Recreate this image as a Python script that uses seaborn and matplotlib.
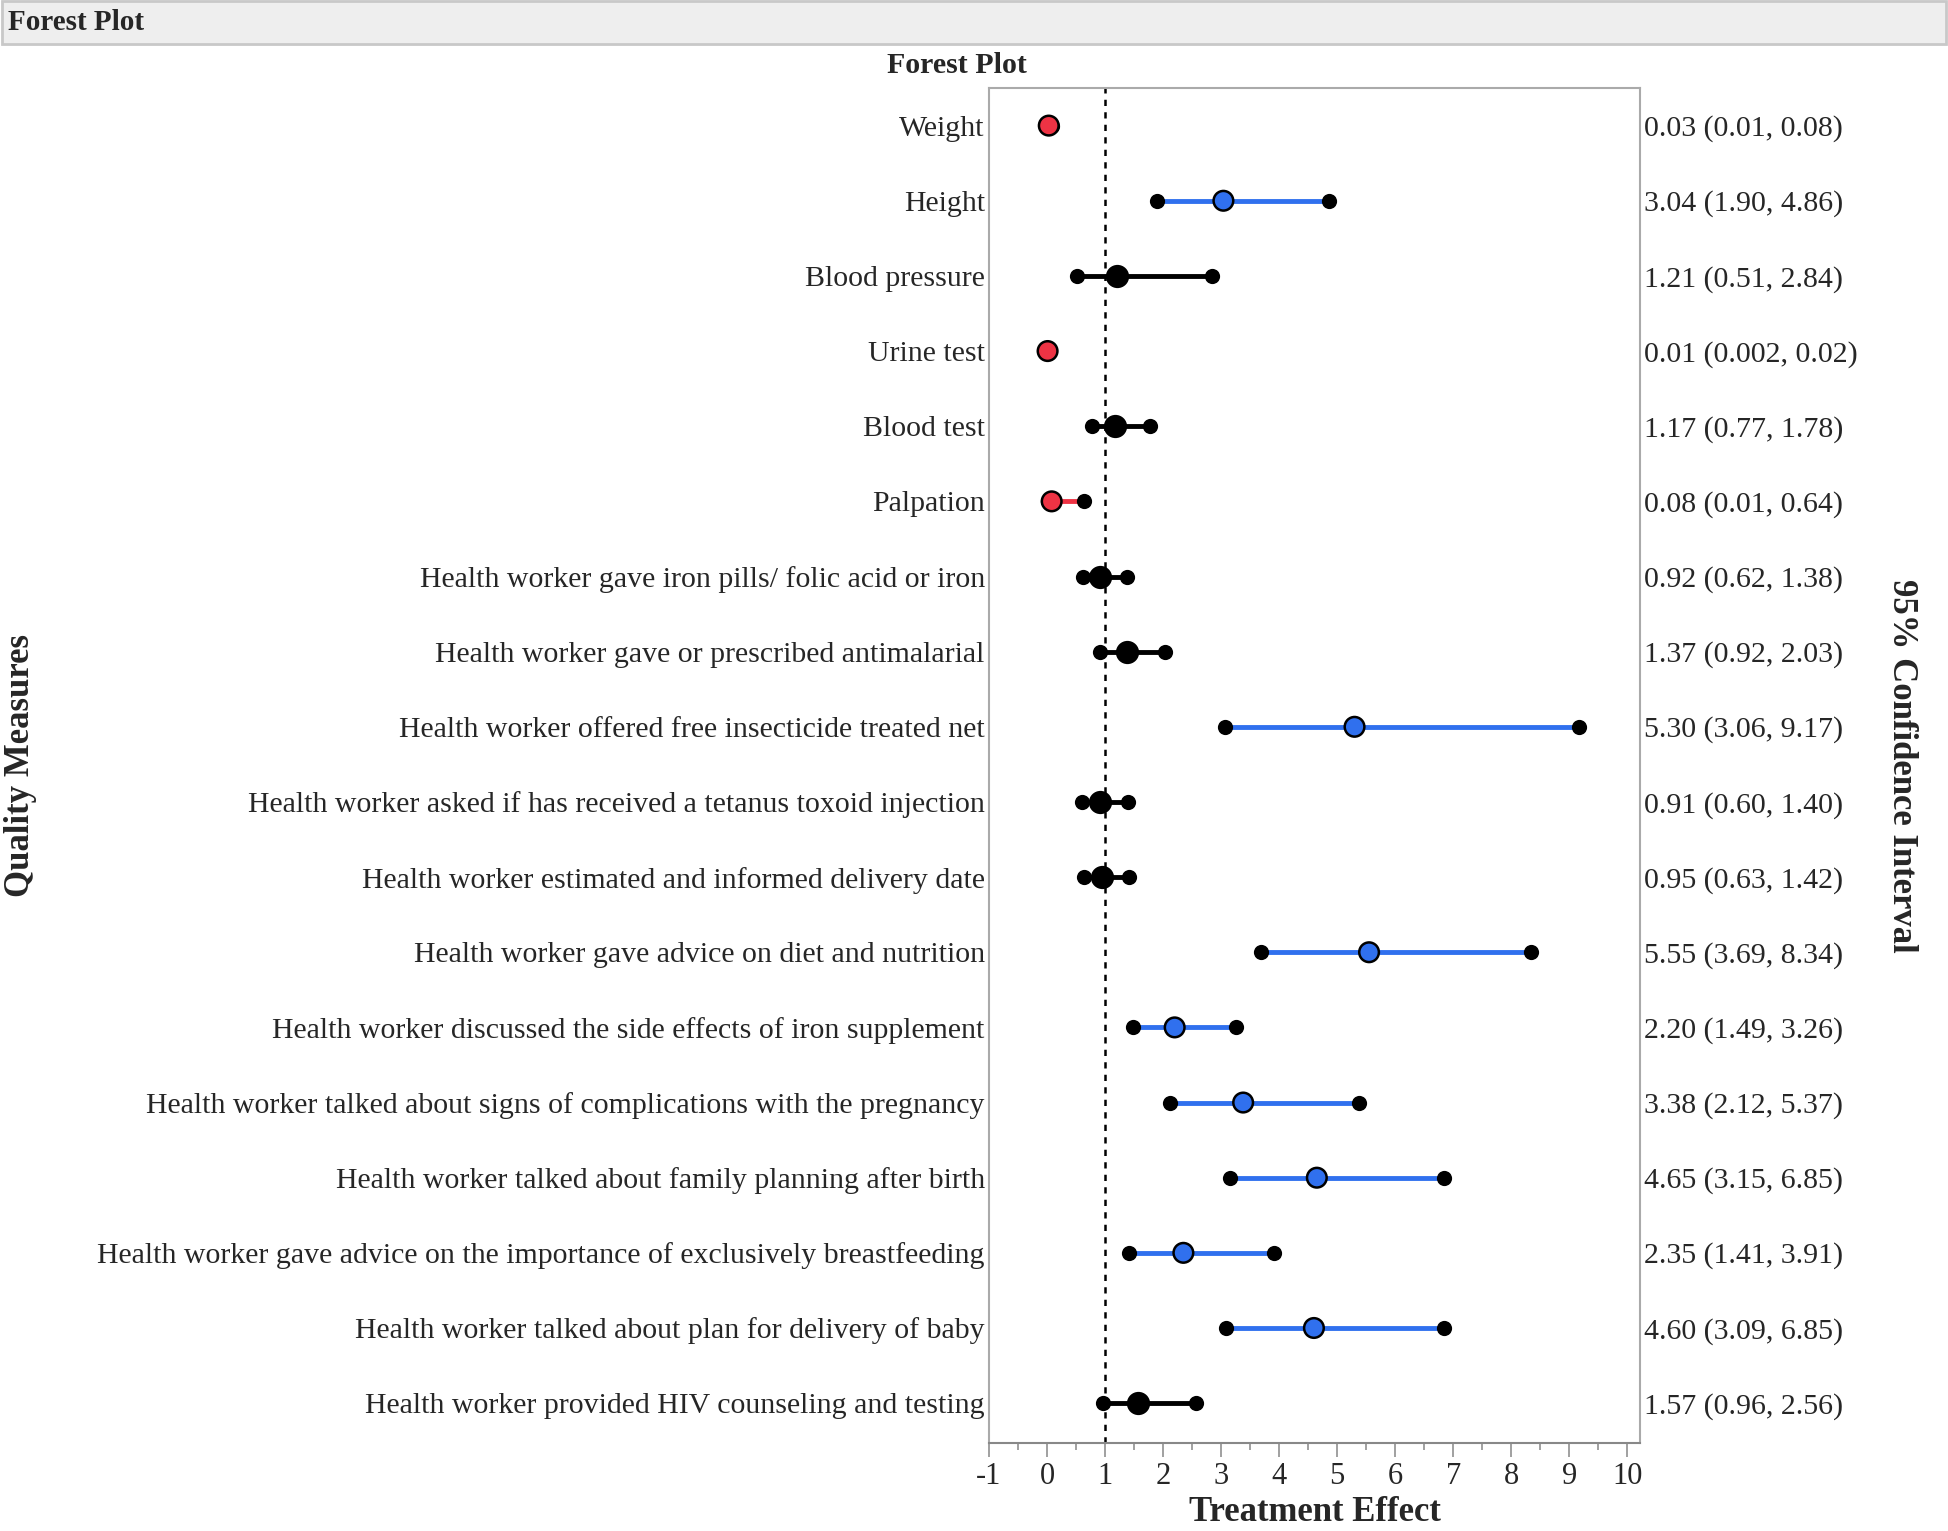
"""Forest plot of quality measures (odds ratios with 95% CI)."""

import matplotlib
matplotlib.use("Agg")
import matplotlib.pyplot as plt
import matplotlib.patches as mpatches
import pandas as pd
import seaborn as sns

measures = [
    "Weight",
    "Height",
    "Blood pressure",
    "Urine test",
    "Blood test",
    "Palpation",
    "Health worker gave iron pills/ folic acid or iron",
    "Health worker gave or prescribed antimalarial",
    "Health worker offered free insecticide treated net",
    "Health worker asked if has received a tetanus toxoid injection",
    "Health worker estimated and informed delivery date",
    "Health worker gave advice on diet and nutrition",
    "Health worker discussed the side effects of iron supplement",
    "Health worker talked about signs of complications with the pregnancy",
    "Health worker talked about family planning after birth",
    "Health worker gave advice on the importance of exclusively breastfeeding",
    "Health worker talked about plan for delivery of baby",
    "Health worker provided HIV counseling and testing",
]
effect = [0.03, 3.04, 1.21, 0.01, 1.17, 0.08, 0.92, 1.37, 5.30, 0.91, 0.95,
          5.55, 2.20, 3.38, 4.65, 2.35, 4.60, 1.57]
lower = [0.01, 1.90, 0.51, 0.002, 0.77, 0.01, 0.62, 0.92, 3.06, 0.60, 0.63,
         3.69, 1.49, 2.12, 3.15, 1.41, 3.09, 0.96]
upper = [0.08, 4.86, 2.84, 0.02, 1.78, 0.64, 1.38, 2.03, 9.17, 1.40, 1.42,
         8.34, 3.26, 5.37, 6.85, 3.91, 6.85, 2.56]
ci_labels = [
    "0.03 (0.01, 0.08)", "3.04 (1.90, 4.86)", "1.21 (0.51, 2.84)",
    "0.01 (0.002, 0.02)", "1.17 (0.77, 1.78)", "0.08 (0.01, 0.64)",
    "0.92 (0.62, 1.38)", "1.37 (0.92, 2.03)", "5.30 (3.06, 9.17)",
    "0.91 (0.60, 1.40)", "0.95 (0.63, 1.42)", "5.55 (3.69, 8.34)",
    "2.20 (1.49, 3.26)", "3.38 (2.12, 5.37)", "4.65 (3.15, 6.85)",
    "2.35 (1.41, 3.91)", "4.60 (3.09, 6.85)", "1.57 (0.96, 2.56)",
]
x_ticks = list(range(-1, 11))

RED = "#ee3344"
BLUE = "#3070ee"
BLACK = "#000000"

sns.set_style("white")
plt.rcParams["font.family"] = ["Liberation Serif", "DejaVu Serif"]
plt.rcParams["axes.unicode_minus"] = False

df = pd.DataFrame({"measure": measures, "effect": effect,
                   "lower": lower, "upper": upper, "label": ci_labels})
df["row"] = range(len(df))


def classify(r):
    if r["upper"] < 1:
        return "lower"
    if r["lower"] > 1:
        return "higher"
    return "ns"


df["group"] = df.apply(classify, axis=1)
palette = {"lower": RED, "higher": BLUE, "ns": BLACK}

fig = plt.figure(figsize=(19.48, 15.31), dpi=100)
ax = fig.add_axes([0.5077, 0.0575, 0.3342, 0.885])

# reference line at 1
ax.axvline(1, color="black", linestyle=(0, (2.5, 2.5)), linewidth=1.8, zorder=1)

# CI lines
for grp, sub in df.groupby("group"):
    ax.hlines(sub["row"], sub["lower"], sub["upper"], color=palette[grp],
              linewidth=3.5, zorder=2)

# CI end points
ends = pd.concat([
    df[["row", "lower"]].rename(columns={"lower": "x"}),
    df[["row", "upper"]].rename(columns={"upper": "x"}),
])
sns.scatterplot(data=ends, x="x", y="row", color="black", s=120,
                edgecolor="black", linewidth=0, ax=ax, zorder=3, legend=False)

# point estimates
ns = df[df["group"] == "ns"]
sig = df[df["group"] != "ns"]
sns.scatterplot(data=ns, x="effect", y="row", color="black", s=280,
                edgecolor="black", linewidth=0, ax=ax, zorder=4, legend=False)
sns.scatterplot(data=sig, x="effect", y="row", hue="group", palette=palette,
                s=200, edgecolor="black", linewidth=1.8, ax=ax, zorder=5,
                legend=False)

ax.set_xlim(-1, 10.22)
ax.set_ylim(len(df) - 0.47, -0.5)
ax.set_xticks(x_ticks)
ax.set_xticks([t + 0.5 for t in x_ticks[:-1]], minor=True)
ax.set_yticks(df["row"])
ax.set_yticklabels(df["measure"], fontsize=21.5)
ax.tick_params(axis="x", which="major", labelsize=22, length=10, width=1.3,
               color="#999999", direction="out", bottom=True, pad=4)
ax.tick_params(axis="x", which="minor", length=5, width=1.3, color="#999999",
               bottom=True)
ax.tick_params(axis="y", length=0, pad=3)
ax.set_xlabel("")
ax.set_ylabel("")
for side in ["left", "right", "top", "bottom"]:
    ax.spines[side].set_color("#aaaaaa")
    ax.spines[side].set_linewidth(1.5)
ax.spines["bottom"].set_color("#888888")

# CI text labels on the right
for _, r in df.iterrows():
    ax.text(1.006, r["row"], r["label"], transform=ax.get_yaxis_transform(),
            ha="left", va="center_baseline", fontsize=21.5)

# header bar
fig.patches.append(mpatches.Rectangle((0.0008, 0.9713), 0.9984, 0.0282,
                                      transform=fig.transFigure,
                                      facecolor="#eeeeee", edgecolor="#c8c8c8",
                                      linewidth=2))
fig.text(0.004, 0.9856, "Forest Plot", fontsize=21, fontweight="bold",
         ha="left", va="center")

fig.text(0.491, 0.957, "Forest Plot", fontsize=21.5, fontweight="bold",
         ha="center", va="center")
fig.text(0.675, 0.001, "Treatment Effect", fontsize=25, fontweight="bold",
         ha="center", va="bottom")
fig.text(0.0105, 0.5, "Quality Measures", fontsize=25, fontweight="bold",
         rotation=90, ha="center", va="center")
fig.text(0.976, 0.5, "95% Confidence Interval", fontsize=25,
         fontweight="bold", rotation=-90, ha="center", va="center")

fig.savefig("out.png", dpi=100)
